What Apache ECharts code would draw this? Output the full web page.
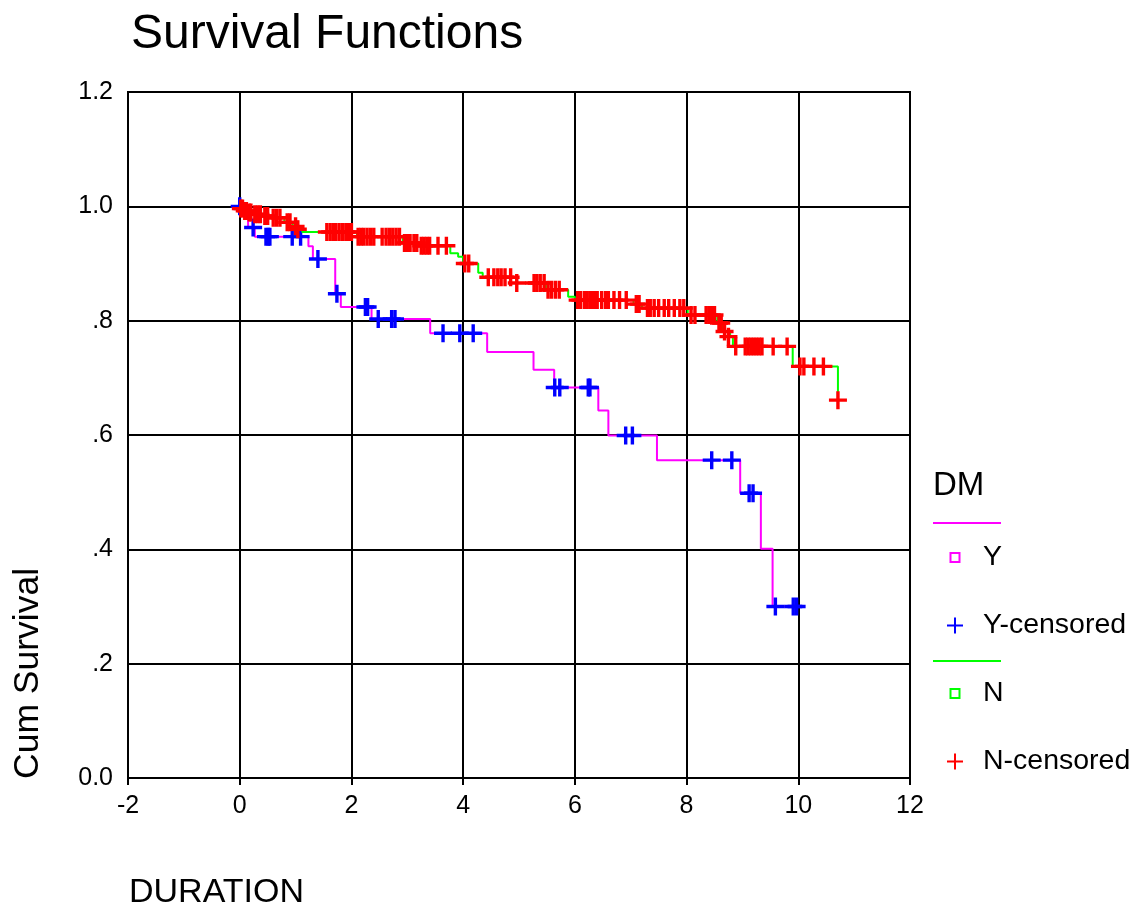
<!DOCTYPE html>
<html>
<head>
<meta charset="utf-8">
<script src="https://cdn.jsdelivr.net/npm/echarts@6/dist/echarts.min.js"></script>
<style>
html,body{margin:0;padding:0;background:#fff;}
#chart{width:1142px;height:910px;}
</style>
</head>
<body>
<div id="chart"></div>
<script>
// ---- Group Y (DM = Y): event times and survival level after each step ----
var yTimes = [0, 0.15, 0.27, 1.23, 1.31, 1.71, 1.81, 2.36, 3.41, 4.43, 5.26, 5.63, 6.42, 6.60, 7.47, 8.96, 9.33, 9.54, 9.97];
var ySurv  = [1.000, 0.963, 0.947, 0.930, 0.908, 0.847, 0.824, 0.803, 0.778, 0.745, 0.714, 0.683, 0.643, 0.599, 0.556, 0.498, 0.401, 0.300, 0.300];
// Y censored marks
var yCensT = [0.00, 0.24, 0.47, 0.51, 0.54, 0.94, 1.09, 1.40, 1.74, 2.25, 2.29, 2.48, 2.72, 2.78, 3.64, 3.94, 4.18, 5.64, 5.73, 6.24, 6.27, 6.91, 7.03, 8.45, 8.81, 9.12, 9.19, 9.59, 9.91, 9.97];
var yCensS = [1.000, 0.963, 0.947, 0.947, 0.947, 0.947, 0.947, 0.908, 0.847, 0.824, 0.824, 0.803, 0.803, 0.803, 0.778, 0.778, 0.778, 0.683, 0.683, 0.683, 0.683, 0.599, 0.599, 0.556, 0.556, 0.498, 0.498, 0.300, 0.300, 0.300];

// ---- Group N (DM = N) ----
var nTimes = [0, 0.03, 0.08, 0.15, 0.25, 0.40, 0.55, 0.80, 0.95, 1.05, 1.12, 2.10, 2.92, 3.20, 3.77, 3.91, 4.00, 4.27, 4.35, 4.95, 5.48, 5.88, 6.00, 7.05, 7.20, 8.02, 8.55, 8.65, 8.78, 8.83, 9.90, 10.71];
var nSurv  = [1.000, 0.996, 0.992, 0.989, 0.986, 0.983, 0.980, 0.972, 0.965, 0.960, 0.955, 0.947, 0.936, 0.931, 0.918, 0.912, 0.900, 0.884, 0.876, 0.866, 0.854, 0.842, 0.836, 0.829, 0.822, 0.810, 0.796, 0.781, 0.772, 0.755, 0.720, 0.661];
// N censored marks
var nCensT = [0.02, 0.05, 0.09, 0.12, 0.17, 0.20, 0.27, 0.32, 0.37, 0.45, 0.50, 0.60, 0.66, 0.72, 0.85, 0.90, 1.00, 1.04,
              1.56, 1.62, 1.68, 1.72, 1.78, 1.84, 1.90, 1.95, 2.00,
              2.12, 2.17, 2.22, 2.28, 2.34, 2.40, 2.55, 2.62, 2.68, 2.74, 2.80, 2.86,
              2.95, 3.00, 3.05, 3.12, 3.17, 3.25, 3.30, 3.35, 3.40, 3.55, 3.70,
              4.03, 4.10,
              4.45, 4.55, 4.62, 4.68, 4.75, 4.85, 4.96, 5.27, 5.32, 5.38, 5.45,
              5.52, 5.58, 5.65, 5.72,
              6.05, 6.10, 6.17, 6.22, 6.27, 6.30, 6.35, 6.40, 6.48, 6.55, 6.60, 6.70, 6.80, 6.92,
              7.10, 7.15,
              7.30, 7.35, 7.42, 7.50, 7.60, 7.68, 7.78, 7.88, 7.95,
              8.08, 8.15, 8.35, 8.40, 8.45, 8.50,
              8.58, 8.62, 8.68, 8.75,
              8.88, 9.05, 9.10, 9.15, 9.20, 9.25, 9.30, 9.35, 9.55, 9.80,
              10.03, 10.10, 10.28, 10.45,
              10.71];
var nCensS = [0.996, 0.996, 0.992, 0.992, 0.989, 0.989, 0.986, 0.986, 0.986, 0.983, 0.983, 0.980, 0.980, 0.980, 0.972, 0.972, 0.965, 0.960,
              0.955, 0.955, 0.955, 0.955, 0.955, 0.955, 0.955, 0.955, 0.955,
              0.947, 0.947, 0.947, 0.947, 0.947, 0.947, 0.947, 0.947, 0.947, 0.947, 0.947, 0.947,
              0.936, 0.936, 0.936, 0.936, 0.936, 0.931, 0.931, 0.931, 0.931, 0.931, 0.931,
              0.900, 0.900,
              0.876, 0.876, 0.876, 0.876, 0.876, 0.876, 0.866, 0.866, 0.866, 0.866, 0.866,
              0.854, 0.854, 0.854, 0.854,
              0.836, 0.836, 0.836, 0.836, 0.836, 0.836, 0.836, 0.836, 0.836, 0.836, 0.836, 0.836, 0.836, 0.836,
              0.829, 0.829,
              0.822, 0.822, 0.822, 0.822, 0.822, 0.822, 0.822, 0.822, 0.822,
              0.810, 0.810, 0.810, 0.810, 0.810, 0.810,
              0.796, 0.796, 0.781, 0.772,
              0.755, 0.755, 0.755, 0.755, 0.755, 0.755, 0.755, 0.755, 0.755, 0.755,
              0.720, 0.720, 0.720, 0.720,
              0.661];

// ---- Axis tick labels ----
var xTickLabels = ['-2', '0', '2', '4', '6', '8', '10', '12'];
var yTickLabels = ['0.0', '.2', '.4', '.6', '.8', '1.0', '1.2'];

function zip(a, b) { return a.map(function (v, i) { return [v, b[i]]; }); }

var FONT = '"Liberation Sans", Arial, sans-serif';
var plusPath = 'path://M7.3,0H10.7V18H7.3Z M0,7.3H18V10.7H0Z';
// legend icons share one wide box: degenerate points pad the box so the glyph sits left and small
var legendSquare = 'path://M0,0Z M32,18Z M3.5,3.5H14.5V14.5H3.5Z M5.5,5.5V12.5H12.5V5.5Z';
var legendPlus = 'path://M0,0Z M32,18Z M8,1H10V17H8Z M1,8H17V10H1Z';

var chart = echarts.init(document.getElementById('chart'), null, { renderer: 'canvas' });
chart.setOption({
  animation: false,
  backgroundColor: '#fff',
  title: {
    text: 'Survival Functions',
    left: 126, top: 6,
    textStyle: { fontFamily: FONT, fontSize: 48, fontWeight: 'normal', color: '#000' }
  },
  grid: { left: 128, right: 232, top: 92, bottom: 132, show: true, borderColor: '#000', borderWidth: 2, backgroundColor: 'transparent' },
  xAxis: {
    type: 'value', min: -2, max: 12, interval: 2,
    axisLine: { show: true, lineStyle: { color: '#000', width: 2 } },
    axisTick: { show: true, length: 7, lineStyle: { color: '#000', width: 2 } },
    splitLine: { show: true, lineStyle: { color: '#000', width: 2 } },
    axisLabel: { color: '#000', fontFamily: FONT, fontSize: 25, margin: 16,
      formatter: function (v) { return xTickLabels[Math.round((v + 2) / 2)]; } }
  },
  yAxis: {
    type: 'value', min: 0, max: 1.2, interval: 0.2,
    axisLine: { show: true, lineStyle: { color: '#000', width: 2 } },
    axisTick: { show: true, length: 7, lineStyle: { color: '#000', width: 2 } },
    splitLine: { show: true, lineStyle: { color: '#000', width: 2 } },
    axisLabel: { color: '#000', fontFamily: FONT, fontSize: 25, margin: 15,
      formatter: function (v) { return yTickLabels[Math.round(v / 0.2)]; } }
  },
  legend: {
    orient: 'vertical',
    left: 941, top: 538,
    itemWidth: 32, itemHeight: 18, itemGap: 39,
    textStyle: { fontFamily: FONT, fontSize: 28.5, color: '#000', lineHeight: 26 },
    data: [
      { name: 'Y', icon: legendSquare },
      { name: 'Y-censored', icon: legendPlus },
      { name: 'N', icon: legendSquare },
      { name: 'N-censored', icon: legendPlus }
    ]
  },
  graphic: [
    { type: 'text', left: 933, top: 469, style: { text: 'DM', font: '33px ' + FONT, fill: '#000' } },
    { type: 'line', shape: { x1: 933, y1: 523, x2: 1001, y2: 523 }, style: { stroke: '#FF00FF', lineWidth: 2 } },
    { type: 'line', shape: { x1: 933, y1: 661, x2: 1001, y2: 661 }, style: { stroke: '#00FF00', lineWidth: 2 } },
    { type: 'text', x: 28, y: 779, rotation: Math.PI / 2,
      style: { text: 'Cum Survival', font: '35.5px ' + FONT, fill: '#000', textAlign: 'left', textVerticalAlign: 'middle' } },
    { type: 'text', x: 129, y: 893,
      style: { text: 'DURATION', font: '34px ' + FONT, fill: '#000', textAlign: 'left', textVerticalAlign: 'middle' } }
  ],
  series: [
    { name: 'Y', type: 'line', step: 'end', data: zip(yTimes, ySurv), showSymbol: false, symbol: 'none',
      lineStyle: { color: '#FF00FF', width: 2 }, itemStyle: { color: '#FF00FF' }, z: 3 },
    { name: 'Y-censored', type: 'scatter', data: zip(yCensT, yCensS), symbol: plusPath, symbolSize: 18,
      itemStyle: { color: '#0000FF', opacity: 1 }, z: 4 },
    { name: 'N', type: 'line', step: 'end', data: zip(nTimes, nSurv), showSymbol: false, symbol: 'none',
      lineStyle: { color: '#00FF00', width: 2 }, itemStyle: { color: '#00FF00' }, z: 5 },
    { name: 'N-censored', type: 'scatter', data: zip(nCensT, nCensS), symbol: plusPath, symbolSize: 18,
      itemStyle: { color: '#FF0000', opacity: 1 }, z: 6 }
  ]
});
</script>
</body>
</html>
